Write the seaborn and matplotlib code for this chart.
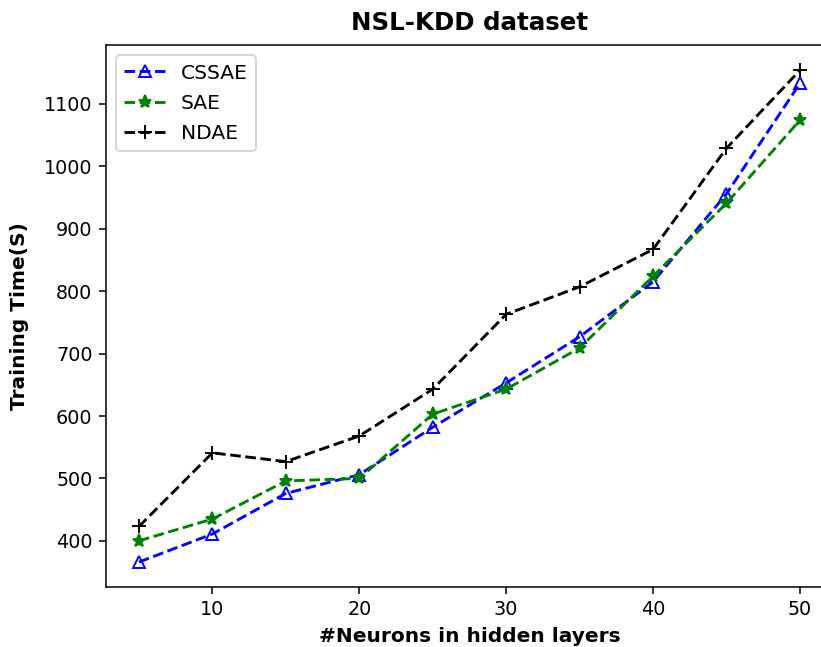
import matplotlib
matplotlib.use("Agg")
import matplotlib.pyplot as plt
import seaborn as sns

neurons = [5, 10, 15, 20, 25, 30, 35, 40, 45, 50]
cssae = [366, 411, 476, 506, 582, 653, 727, 815, 956, 1133]
sae = [400, 435, 496, 500, 603, 643, 709, 824, 941, 1074]
ndae = [423, 541, 527, 568, 643, 763, 807, 867, 1029, 1154]

sns.set_style("ticks", {"axes.edgecolor": "black", "text.color": "black",
                        "axes.labelcolor": "black", "xtick.color": "black",
                        "ytick.color": "black"})
plt.rcParams['font.family'] = ['DejaVu Sans']
plt.rcParams['font.size'] = 10

DPI = 138
fig = plt.figure(figsize=(821 / DPI, 647 / DPI), dpi=DPI)
ax = fig.add_axes([0.129, 0.0927, 0.8856, 0.8373])

sns.lineplot(x=neurons, y=cssae, ax=ax, color='blue', linestyle='--', marker='^',
             markersize=6.5, markerfacecolor='none', markeredgecolor='blue',
             markeredgewidth=1.0, label='CSSAE', linewidth=1.5)
sns.lineplot(x=neurons, y=sae, ax=ax, color='green', linestyle='--', marker='*',
             markersize=7, markeredgecolor='green', markeredgewidth=1.0,
             label='SAE', linewidth=1.5)
sns.lineplot(x=neurons, y=ndae, ax=ax, color='black', linestyle='--', marker='+',
             markersize=7, markeredgecolor='black', markeredgewidth=1.0,
             label='NDAE', linewidth=1.5)

ax.set_xticks([10, 20, 30, 40, 50])
ax.set_yticks([400, 500, 600, 700, 800, 900, 1000, 1100])
ax.set_xlim(2.75, 52.25)
ax.set_ylim(326, 1194)
ax.tick_params(labelsize=10, length=3.5, width=0.8, direction='out')
for s in ax.spines.values():
    s.set_linewidth(0.8)
    s.set_color('black')

ax.set_title('NSL-KDD dataset', fontsize=12.8, fontweight='bold', pad=8)
ax.set_xlabel('#Neurons in hidden layers', fontsize=10.5, fontweight='bold', labelpad=4)
ax.set_ylabel('Training Time(S)', fontsize=10.5, fontweight='bold', labelpad=8)
ax.legend(loc='upper left', fontsize=10.6, handlelength=2, frameon=True,
          framealpha=0.8, fancybox=True, edgecolor='#cccccc',
          labelspacing=0.55)

fig.savefig('out.png', dpi=DPI)
